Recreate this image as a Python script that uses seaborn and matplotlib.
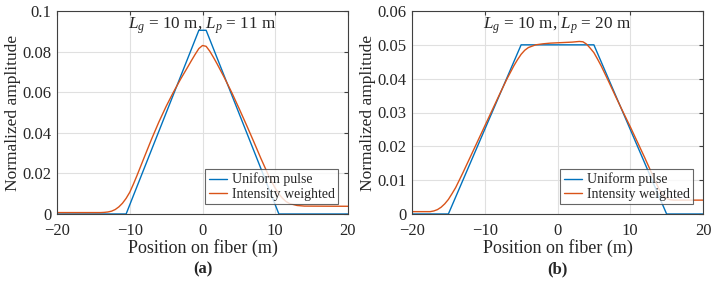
import numpy as np
import matplotlib
matplotlib.use("Agg")
import matplotlib.pyplot as plt
import seaborn as sns
import pandas as pd

# panel (a): Lg = 10 m, Lp = 11 m
a_uni_x = [-20, -10.5, -0.5, 0.5, 10.5, 20]
a_uni_y = [0, 0, 0.0905, 0.0905, 0, 0]
a_int_x = [-20, -14, -13.5, -13, -12.5, -12, -11.5, -11, -10.5, -10, -9.5, -9, -8,
           -7, -6, -5, -4, -3, -2, -1.5, -1, -0.5, 0, 0.5, 1, 1.5, 2, 3, 4, 5, 6,
           7, 8, 9, 9.5, 10, 10.5, 11, 11.5, 12, 13, 14, 20]
a_int_y = [0.0007, 0.0007, 0.0008, 0.0010, 0.0014, 0.0022, 0.0035, 0.0053, 0.0077,
           0.0107, 0.0147, 0.0190, 0.0280, 0.0369, 0.0453, 0.0530, 0.0600, 0.0665,
           0.0726, 0.0757, 0.0787, 0.0815, 0.0830, 0.0826, 0.0802, 0.0772, 0.0740,
           0.0672, 0.0600, 0.0522, 0.0442, 0.0360, 0.0276, 0.0196, 0.0160, 0.0127,
           0.0099, 0.0077, 0.0061, 0.0051, 0.0042, 0.0039, 0.0038]

# panel (b): Lg = 10 m, Lp = 20 m
b_uni_x = [-20, -15, -5, 5, 15, 20]
b_uni_y = [0, 0, 0.05, 0.05, 0, 0]
b_int_x = [-20, -17.5, -17, -16.5, -16, -15.5, -15, -14.5, -14, -13, -12, -11, -10,
           -9, -8, -7, -6, -5.5, -5, -4.5, -4, -3, -2, -1, 0, 1, 2, 3, 3.5, 4, 4.5,
           5, 5.5, 6, 7, 8, 9, 10, 11, 12, 13, 13.5, 14, 14.5, 15, 15.5, 16, 20]
b_int_y = [0.0007, 0.0007, 0.0009, 0.0013, 0.0020, 0.0030, 0.0043, 0.0060, 0.0078,
           0.0122, 0.0168, 0.0214, 0.0260, 0.0306, 0.0352, 0.0397, 0.0438, 0.0456,
           0.0472, 0.0484, 0.0492, 0.0500, 0.0503, 0.0505, 0.0506, 0.0507, 0.0508,
           0.0510, 0.0509, 0.0502, 0.0490, 0.0477, 0.0458, 0.0438, 0.0393, 0.0347,
           0.0302, 0.0258, 0.0212, 0.0166, 0.0118, 0.0094, 0.0072, 0.0055, 0.0046,
           0.0042, 0.0041, 0.0041]

labels = ["Uniform pulse", "Intensity weighted"]
colors = ["#0072BD", "#D95319"]

sns.set_style("white")
plt.rcParams["font.family"] = ["Liberation Serif", "DejaVu Serif"]
plt.rcParams["mathtext.fontset"] = "custom"
plt.rcParams["mathtext.rm"] = "Liberation Serif"
plt.rcParams["mathtext.it"] = "Liberation Serif:italic"
plt.rcParams["axes.unicode_minus"] = True

fig = plt.figure(figsize=(7.14, 2.84), dpi=100)
ax_a = fig.add_axes([57 / 714, 1 - 214 / 284, 291 / 714, 203 / 284])
ax_b = fig.add_axes([412 / 714, 1 - 214 / 284, 291 / 714, 203 / 284])

panels = [
    (ax_a, a_uni_x, a_uni_y, a_int_x, a_int_y, 0.1, 0.02, "$L_g$ = 10 m, $L_p$ = 11 m", "(a)"),
    (ax_b, b_uni_x, b_uni_y, b_int_x, b_int_y, 0.06, 0.01, "$L_g$ = 10 m, $L_p$ = 20 m", "(b)"),
]

for ax, ux, uy, ix, iy, ymax, ystep, title, tag in panels:
    df = pd.concat([
        pd.DataFrame({"x": ux, "y": uy, "s": labels[0]}),
        pd.DataFrame({"x": ix, "y": iy, "s": labels[1]}),
    ])
    sns.lineplot(data=df, x="x", y="y", hue="s", palette=colors, sort=False,
                 estimator=None, linewidth=1.0, ax=ax)
    ax.set_xlim(-20, 20)
    ax.set_ylim(0, ymax)
    ax.set_xticks([-20, -10, 0, 10, 20])
    yt = np.round(np.arange(0, ymax + ystep / 2, ystep), 3)
    ax.set_yticks(yt)
    ax.set_yticklabels([f"{v:g}" for v in yt])
    ax.grid(True, color="#e0e0e0", linewidth=0.8)
    ax.tick_params(direction="in", length=3, labelsize=12, top=True, right=True,
                   color="#404040")
    ax.tick_params(axis="x", pad=6.5)
    ax.tick_params(axis="y", pad=4)
    for sp in ax.spines.values():
        sp.set_color("#404040")
        sp.set_linewidth(0.8)
    ax.set_xlabel("Position on fiber (m)", fontsize=13, labelpad=0)
    ax.set_ylabel("Normalized amplitude", fontsize=12.5, labelpad=1)
    ax.text(0.5, 0.93, title, transform=ax.transAxes, ha="center", va="center",
            fontsize=12.3)
    ax.text(0.5, -0.232, tag, transform=ax.transAxes, ha="center", va="top",
            fontsize=12, fontweight="bold")
    leg = ax.legend(loc="lower right", fontsize=10, handlelength=1.3,
                    frameon=True, fancybox=False, borderaxespad=0.7,
                    labelspacing=0.1, handletextpad=0.35, borderpad=0.25)
    leg.set_title(None)
    leg.get_frame().set_edgecolor("#404040")
    leg.get_frame().set_linewidth(0.8)

fig.savefig("out.png", dpi=100)
